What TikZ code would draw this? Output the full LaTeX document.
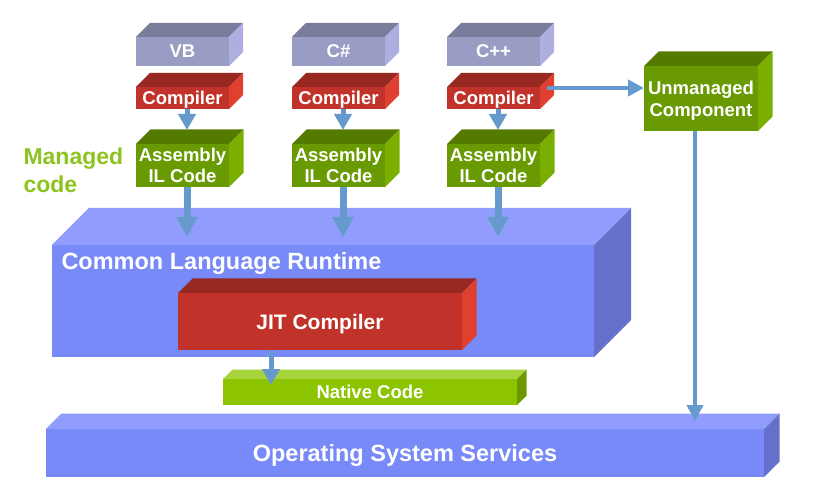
\documentclass[tikz,border=0pt]{standalone}
\usepackage{fontspec}
\setmainfont{Liberation Sans}
\usetikzlibrary{positioning,calc,arrows.meta}

\definecolor{langfront}{HTML}{9A9DC3}
\definecolor{langtop}{HTML}{7A7C9C}
\definecolor{langside}{HTML}{ACAFE0}
\definecolor{compfront}{HTML}{C1332A}
\definecolor{comptop}{HTML}{972922}
\definecolor{compside}{HTML}{E0402F}
\definecolor{asmfront}{HTML}{6A9A02}
\definecolor{asmtop}{HTML}{557A00}
\definecolor{asmside}{HTML}{7AAF00}
\definecolor{clrfront}{HTML}{7889F8}
\definecolor{clrtop}{HTML}{919DFC}
\definecolor{clrside}{HTML}{6470C9}
\definecolor{natfront}{HTML}{8CC400}
\definecolor{nattop}{HTML}{A7D43B}
\definecolor{natside}{HTML}{6D9900}
\definecolor{arrowblue}{HTML}{6699CC}
\definecolor{managedgreen}{HTML}{8DC31F}

% top and right faces of a box node: name, depth, top colour, side colour
\newcommand{\boxsides}[4]{%
  \fill[#3] (#1.north west) -- ++(#2,-#2) -- ($(#1.north east)+(#2,-#2)$) -- (#1.north east) -- cycle;
  \fill[#4] (#1.north east) -- ++(#2,-#2) -- ($(#1.south east)+(#2,-#2)$) -- (#1.south east) -- cycle;}

\begin{document}
\begin{tikzpicture}[x=1bp,y=-1bp,
  face/.style={inner sep=0pt, outer sep=0pt, text=white, align=center,
    font=\bfseries\fontsize{18.5bp}{21.5bp}\selectfont},
  lang/.style={face, fill=langfront, minimum width=93bp, minimum height=29bp, text depth=0pt},
  comp/.style={face, fill=compfront, minimum width=93bp, minimum height=22bp, text depth=0pt},
  asm/.style={face, fill=asmfront, minimum width=93bp, minimum height=43bp},
  arr/.style={draw=arrowblue, line width=5bp, -{Triangle[width=17bp,length=16bp]}},
  bigarr/.style={draw=arrowblue, line width=7bp, -{Triangle[width=20bp,length=20bp]}},
  thinarr/.style={draw=arrowblue, line width=4bp, -{Triangle[width=16bp,length=16bp]}}]
  \useasboundingbox (0,0) rectangle (820,495);

  % source languages
  \foreach \n/\x/\t in {vb/182.5/VB, cs/338.5/C\#, cp/493.5/C++}{
    \node[lang] (lang\n) at (\x,51.5) {\t};
    \boxsides{lang\n}{14}{langtop}{langside}
    \node[comp] (comp\n) at (\x,98) {Compiler};
    \boxsides{comp\n}{14}{comptop}{compside}
    \node[asm] (asm\n) at (\x,165.5) {Assembly\\IL Code};
    \boxsides{asm\n}{14.5}{asmtop}{asmside}
  }

  \node[face, fill=asmfront, minimum width=114bp, minimum height=65bp] (unm) at (701,98.5) {\rule{0pt}{17.5bp}Unmanaged\\Component};
  \boxsides{unm}{14.5}{asmtop}{asmside}

  \node[anchor=west, align=left, text=managedgreen, font=\bfseries\fontsize{23bp}{28bp}\selectfont] (managed) at (20,170) {Managed\\code};

  % runtime
  \node[face, fill=clrfront, minimum width=542bp, minimum height=112bp] (clr) at (323,301) {};
  \boxsides{clr}{37}{clrtop}{clrside}
  \node[anchor=base west, text=white, font=\bfseries\fontsize{23.5bp}{28bp}\selectfont] (clrlabel) at (58,270) {Common Language Runtime};

  \node[face, fill=compfront, minimum width=284bp, minimum height=57bp, font=\bfseries\fontsize{21bp}{25bp}\selectfont, text depth=0pt] (jit) at (320,321.5) {JIT Compiler};
  \boxsides{jit}{14.5}{comptop}{compside}

  \node[face, fill=natfront, minimum width=294bp, minimum height=26bp, text depth=0pt] (nat) at (370,392) {Native Code};
  \boxsides{nat}{9.5}{nattop}{natside}

  \node[face, fill=clrfront, minimum width=718bp, minimum height=48bp, font=\bfseries\fontsize{23.5bp}{28bp}\selectfont, text depth=0pt] (os) at (405,453) {Operating System Services};
  \boxsides{os}{15.5}{clrtop}{clrside}

  % connectors
  \foreach \n in {vb,cs,cp}{
    \draw[arr] ($(comp\n.south)+(4.5,0)$) -- ($(asm\n.north)+(4.5,-14)$);
    \draw[bigarr] ($(asm\n.south)+(4.5,0)$) -- ($(asm\n.south |- clr.north)+(4.5,-8)$);
  }
  \draw[thinarr] ($(compcp.east)+(7,-10)$) -- ($(compcp.east -| unm.west)+(0,-10)$);
  \draw[thinarr] ($(unm.south)+(-6,0)$) -- ($(unm.south |- os.north)+(-6,-8)$);
  \draw[arr] ($(jit.south)+(-49,0)$) -- ($(jit.south |- nat.north)+(-49,6)$);
\end{tikzpicture}
\end{document}
